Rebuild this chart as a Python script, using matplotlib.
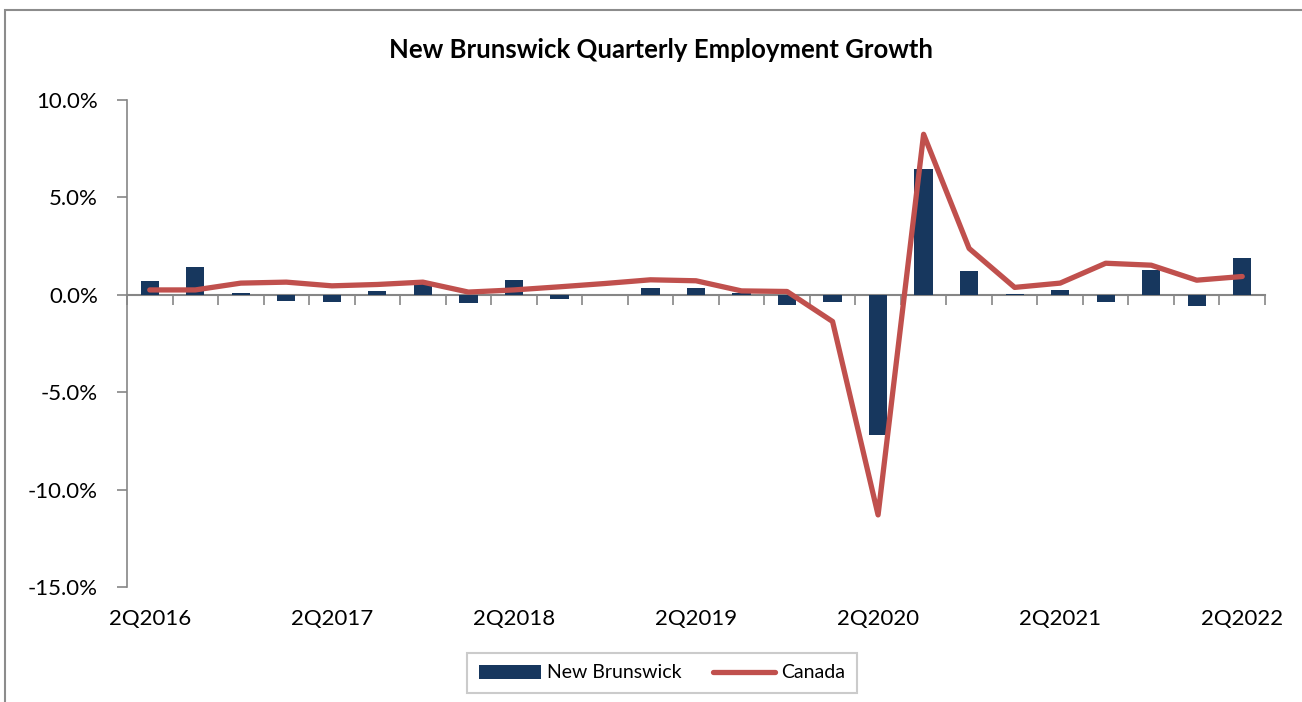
import numpy as np
import matplotlib
matplotlib.use("Agg")
import matplotlib.pyplot as plt
from matplotlib.patches import Rectangle
from matplotlib.ticker import FuncFormatter

plt.rcParams['font.family'] = ['Lato', 'DejaVu Sans']

# quarters 2Q2016 .. 2Q2022
quarters = []
for y in range(2016, 2023):
    for q in range(1, 5):
        if (y == 2016 and q < 2) or (y == 2022 and q > 2):
            continue
        quarters.append(f"{q}Q{y}")

# quarterly employment growth, %
new_brunswick = [0.7, 1.45, 0.07, -0.33, -0.36, 0.17, 0.6, -0.41, 0.75, -0.19,
                 0.0, 0.33, 0.33, 0.1, -0.51, -0.36, -7.18, 6.45, 1.2, 0.02,
                 0.27, -0.39, 1.28, -0.58, 1.9]
canada = [0.25, 0.25, 0.6, 0.65, 0.46, 0.53, 0.65, 0.14, 0.25, 0.41,
          0.58, 0.77, 0.72, 0.2, 0.17, -1.37, -11.3, 8.24, 2.38, 0.38,
          0.6, 1.62, 1.52, 0.75, 0.94]

bar_color = '#17375E'
line_color = '#C0504D'
grey = '#868686'

fig = plt.figure(figsize=(13.02, 7.02), dpi=100)
# outer chart border
fig.patches.append(Rectangle((5 / 1302, -0.05), 1.1, 1 - 10 / 702 + 0.05,
                             transform=fig.transFigure, fill=False,
                             edgecolor='#8c8c8c', linewidth=1.5))

ax = fig.add_axes([127 / 1302, 1 - 587 / 702, (1265 - 127) / 1302, (587 - 100) / 702])
x = np.arange(len(quarters))

bars = ax.bar(x, np.array(new_brunswick), width=0.4, color=bar_color, label='New Brunswick', zorder=2)
line, = ax.plot(x, canada, color=line_color, linewidth=3.8, label='Canada', zorder=3,
                solid_joinstyle='round', solid_capstyle='round')

ax.set_xlim(-0.5, len(quarters) - 0.5)
ax.set_ylim(-15, 10)
ax.set_yticks(np.arange(-15, 10.1, 5))
ax.yaxis.set_major_formatter(FuncFormatter(lambda v, p: f"{v:.1f}%"))

ax.set_xticks(x[::4])
ax.set_xticklabels([quarters[i] for i in range(0, len(quarters), 4)])
ax.tick_params(axis='x', length=0, pad=16, labelsize=16)
ax.tick_params(axis='y', length=7, width=1.2, color=grey, pad=14, labelsize=16, direction='out')

for s in ['top', 'right', 'bottom']:
    ax.spines[s].set_visible(False)
ax.spines['left'].set_color(grey)
ax.spines['left'].set_linewidth(1.2)

# zero line with category tick marks pointing down
sec = ax.secondary_xaxis(15 / 25)
sec.set_xticks(np.arange(-0.5, len(quarters), 1))
sec.set_xticklabels([])
sec.tick_params(axis='x', length=7, width=1.2, color=grey, direction='in')
sec.spines['bottom'].set_color(grey)
sec.spines['bottom'].set_linewidth(1.5)
for s in sec.spines:
    sec.spines[s].set_color(grey)
    sec.spines[s].set_linewidth(1.5)

fig.text(661 / 1302, 1 - 50 / 702, 'New Brunswick Quarterly Employment Growth',
         ha='center', va='center', fontsize=18.5, fontweight='bold')

leg = fig.legend([bars, line], ['New Brunswick', 'Canada'],
                 loc='center', bbox_to_anchor=(662 / 1302, 1 - 673 / 702), ncol=2,
                 fontsize=14, frameon=True, fancybox=False, handlelength=3.2,
                 columnspacing=1.6, borderpad=0.6, handletextpad=0.3)
leg.get_frame().set_edgecolor('#bfbfbf')
leg.get_frame().set_linewidth(1.5)

fig.savefig('out.png', dpi=100)
